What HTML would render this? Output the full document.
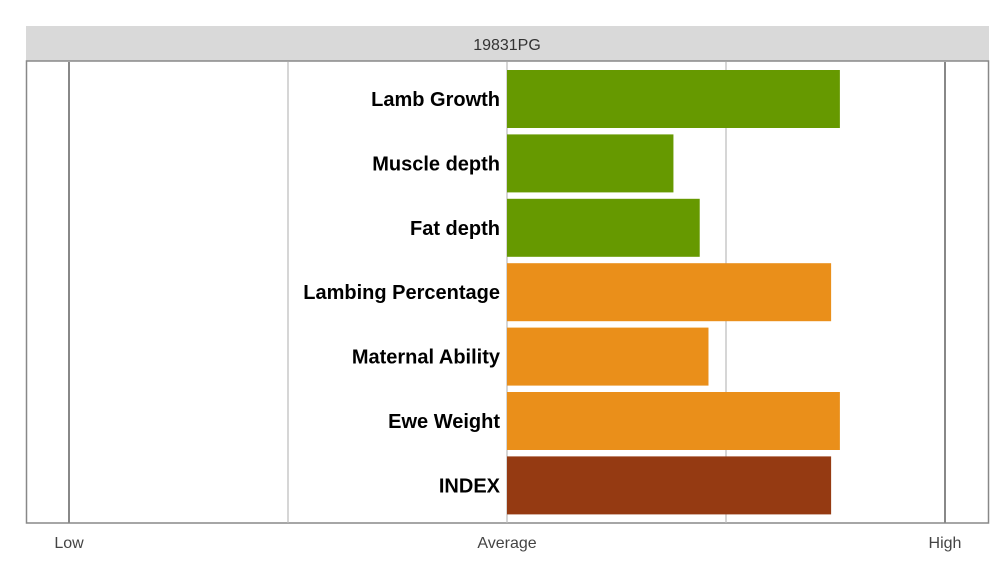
<!DOCTYPE html>
<html><head><meta charset="utf-8"><style>
body{margin:0;background:#fff;font-family:"Liberation Sans",Arial,sans-serif}
svg text{font-family:"Liberation Sans",Arial,sans-serif}
</style></head><body>
<svg width="1000" height="571" viewBox="0 0 1000 571">
<rect x="26" y="26" width="963" height="35" fill="#d9d9d9"/>
<text x="507" y="50" text-anchor="middle" font-size="16" fill="#333">19831PG</text>
<rect x="26.5" y="61" width="962" height="462" fill="#fff" stroke="#888" stroke-width="1.5"/>
<g id="grid"></g>
<g id="bars"></g>
<g id="labels"></g>
<g id="xticks"></g>
</svg>
<script>
const categories=["Lamb Growth","Muscle depth","Fat depth","Lambing Percentage","Maternal Ability","Ewe Weight","INDEX"];
const values=[0.76,0.38,0.44,0.74,0.46,0.76,0.74];
const groups=["growth","growth","growth","maternal","maternal","maternal","index"];
const tickValues=[-1,0,1];
const tickLabels=["Low","Average","High"];
const gridValues=[-1,-0.5,0,0.5,1];
const colors={growth:"#669900",maternal:"#ea8f1a",index:"#953a12"};
const NS="http://www.w3.org/2000/svg";
const x=v=>507+v*438;
const y=i=>70+i*64.4;
const bh=58;
function mk(t,a,p){const e=document.createElementNS(NS,t);for(const k in a)e.setAttribute(k,a[k]);document.getElementById(p).appendChild(e);return e;}
gridValues.forEach((g,i)=>{
 const major=Math.abs(g)===1;
 const e=mk("line",{x1:x(g),x2:x(g),y1:62,y2:523,stroke:major?"#888":"#bbb","stroke-width":major?2:1.2},"grid");
 
 
});
values.forEach((v,i)=>{
 const r=mk("rect",{x:Math.min(x(0),x(v)),y:y(i),width:Math.abs(x(v)-x(0)),height:bh,fill:colors[groups[i]]},"bars");
 
 
 const t=mk("text",{x:x(0)-7,y:y(i)+bh/2+7,"text-anchor":"end","font-size":20,"font-weight":"bold",fill:"#000"},"labels");
 t.textContent=categories[i];
 
 
});
tickValues.forEach((v,i)=>{
 const t=mk("text",{x:x(v),y:548,"text-anchor":"middle","font-size":16,fill:"#444"},"xticks");
 t.textContent=tickLabels[i];
 
 
});
</script>
</body></html>
